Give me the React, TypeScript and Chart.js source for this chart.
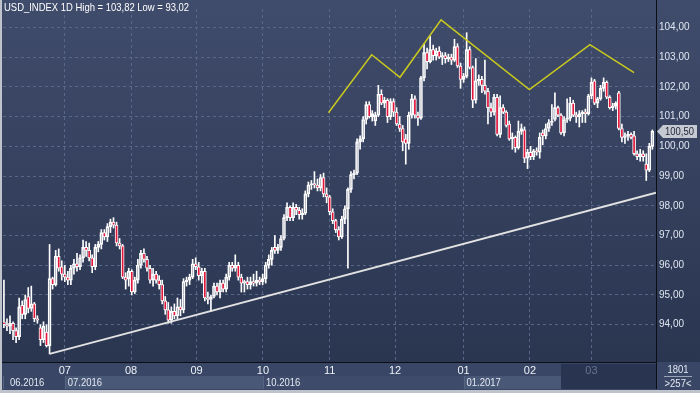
import React, { useEffect, useRef } from "react";
import { Chart, registerables } from "chart.js";

Chart.register(...registerables);

// ---- data (daily candles, USD_INDEX, Jun 2016 – Mar 2017) ----
const open = [
  94.1, 94.0, 93.95, 94.05, 93.8, 93.6, 94.65, 94.35, 94.95, 94.55,
  94.7, 94.2, 93.9, 93.5, 93.75, 93.3, 95.55, 95.35, 96.3, 95.95,
  95.7, 95.6, 95.5, 95.9, 96.05, 95.95, 96.25, 96.6, 96.5, 96.25,
  95.95, 96.6, 96.7, 97.1, 96.95, 97.3, 97.45, 97.35, 96.75, 96.65,
  95.6, 95.55, 95.8, 95.1, 95.5, 96.0, 96.4, 96.2, 95.9, 95.5,
  95.7, 95.5, 95.35, 94.8, 94.5, 94.15, 94.45, 94.3, 94.6, 94.5,
  95.45, 95.5, 95.6, 96.05, 95.95, 95.65, 95.8, 94.9, 94.85, 94.95,
  95.3, 95.1, 95.4, 95.2, 95.6, 96.0, 95.9, 96.0, 95.6, 95.4,
  95.45, 95.35, 95.45, 95.4, 95.5, 95.45, 95.55, 96.0, 96.2, 96.6,
  96.5, 96.6, 96.9, 97.6, 97.95, 97.6, 97.95, 97.85, 97.7, 97.75,
  98.4, 98.7, 98.75, 98.7, 98.6, 98.95, 98.4, 98.3, 97.8, 97.5,
  97.2, 96.95, 97.55, 97.9, 98.55, 99.05, 99.1, 100.15, 100.25, 100.9,
  101.4, 101.0, 100.85, 101.05, 101.75, 101.45, 101.55, 101.0, 101.5, 101.15,
  100.75, 100.6, 100.25, 100.1, 101.05, 101.6, 101.05, 100.95, 102.3, 103.15,
  102.85, 103.25, 103.05, 103.2, 103.0, 103.05, 102.95, 103.0, 102.9, 103.35,
  102.7, 102.25, 102.35, 103.25, 102.65, 101.55, 102.2, 102.25, 102.05, 101.85,
  101.3, 101.15, 101.65, 100.4, 101.3, 101.15, 100.75, 100.25, 100.3, 99.95,
  100.5, 100.55, 99.6, 99.8, 99.65, 99.85, 99.8, 100.45, 100.35, 100.6,
  100.8, 100.9, 101.3, 101.05, 100.45, 100.9, 100.95, 101.45, 101.05, 101.0,
  101.1, 101.15, 101.1, 101.7, 102.2, 101.45, 101.6, 101.95, 102.15, 101.65,
  101.3, 101.35, 101.8, 100.6, 100.3, 100.35, 100.4, 100.35, 99.75, 99.65,
  99.75, 99.4, 99.2, 100.0,
];
const high = [
  95.5, 94.2, 94.3, 94.1, 93.9, 94.9, 94.8, 95.0, 95.25, 95.3,
  94.75, 94.3, 94.0, 94.1, 94.0, 96.7, 95.6, 96.5, 96.55, 96.15,
  96.0, 95.8, 96.0, 96.2, 96.4, 96.35, 96.85, 96.8, 96.75, 96.35,
  96.7, 96.8, 97.2, 97.2, 97.4, 97.55, 97.6, 97.45, 96.9, 96.7,
  95.75, 95.9, 95.85, 95.6, 96.2, 96.5, 96.55, 96.3, 96.0, 95.9,
  95.8, 95.65, 95.5, 94.95, 94.75, 94.6, 94.7, 94.9, 94.85, 95.55,
  95.6, 95.7, 96.2, 96.25, 96.1, 95.9, 95.9, 95.1, 95.0, 95.4,
  95.4, 95.5, 95.5, 95.7, 96.1, 96.1, 96.35, 96.1, 95.7, 95.5,
  95.6, 95.6, 95.7, 95.8, 95.6, 95.7, 96.1, 96.35, 96.6, 97.0,
  96.7, 97.0, 97.7, 98.1, 98.0, 98.1, 98.05, 97.95, 97.9, 98.5,
  98.8, 98.85, 99.15, 98.9, 99.05, 99.1, 98.6, 98.35, 97.9, 97.55,
  97.3, 97.65, 98.0, 98.6, 99.15, 99.2, 100.25, 100.35, 101.0, 101.5,
  101.5, 101.2, 101.15, 102.05, 101.9, 101.65, 101.6, 101.6, 101.6, 101.3,
  101.0, 100.7, 100.4, 101.15, 101.75, 101.7, 101.15, 102.35, 103.45, 103.3,
  103.7, 103.4, 103.3, 103.35, 103.15, 103.15, 103.1, 103.1, 103.6, 103.45,
  102.8, 102.45, 103.82, 103.35, 102.7, 102.95, 102.4, 102.35, 102.9, 101.95,
  101.45, 101.75, 101.75, 101.7, 101.4, 101.2, 100.85, 100.45, 100.35, 100.85,
  100.75, 100.65, 99.9, 100.0, 99.9, 99.95, 100.45, 100.55, 100.75, 100.9,
  101.4, 101.8, 101.35, 101.1, 101.0, 101.6, 101.65, 101.55, 101.15, 101.2,
  101.2, 101.25, 101.75, 102.3, 102.25, 101.65, 102.05, 102.3, 102.2, 101.7,
  101.45, 101.5, 101.85, 100.75, 100.45, 100.5, 100.45, 100.5, 99.85, 99.9,
  99.85, 99.75, 100.1, 100.55,
];
const low = [
  93.9, 93.8, 93.7, 93.5, 93.4, 93.5, 94.2, 94.2, 94.4, 94.45,
  94.1, 94.05, 93.3, 93.4, 93.25, 93.02, 95.2, 95.3, 95.8, 95.5,
  95.45, 95.35, 95.35, 95.7, 95.8, 95.85, 96.1, 96.3, 96.15, 95.75,
  95.85, 96.45, 96.55, 96.85, 96.8, 97.1, 97.25, 96.65, 96.55, 95.55,
  95.2, 95.3, 95.0, 95.05, 95.4, 95.9, 96.1, 95.8, 95.4, 95.3,
  95.4, 95.2, 94.7, 94.35, 94.05, 94.05, 94.2, 94.2, 94.3, 94.4,
  95.3, 95.35, 95.55, 95.85, 95.5, 95.4, 94.8, 94.7, 94.45, 94.9,
  95.0, 94.9, 95.1, 95.1, 95.5, 95.8, 95.8, 95.5, 95.1, 95.1,
  95.2, 95.2, 95.3, 95.3, 95.35, 95.35, 95.4, 95.9, 96.0, 96.4,
  96.4, 96.5, 96.85, 97.5, 97.5, 97.5, 97.7, 97.55, 97.55, 97.7,
  98.3, 98.55, 98.6, 98.5, 98.5, 98.3, 98.1, 97.7, 97.4, 97.1,
  96.85, 96.9, 97.4, 95.9, 98.45, 98.9, 99.05, 99.9, 100.15, 100.75,
  100.95, 100.85, 100.7, 101.0, 101.4, 101.3, 100.8, 100.9, 101.0, 100.7,
  100.5, 99.85, 99.4, 99.9, 100.95, 100.95, 100.7, 100.9, 102.2, 102.6,
  102.8, 102.9, 102.9, 102.95, 102.75, 102.8, 102.85, 102.75, 102.85, 102.65,
  101.95, 102.15, 102.3, 102.6, 101.3, 101.45, 102.05, 101.8, 101.75, 100.75,
  101.0, 101.05, 100.35, 100.3, 101.1, 100.65, 100.2, 99.9, 99.8, 99.9,
  100.4, 99.45, 99.25, 99.55, 99.55, 99.7, 99.6, 100.05, 100.25, 100.5,
  100.7, 100.85, 101.0, 100.4, 100.35, 100.8, 100.85, 101.0, 100.8, 100.65,
  100.8, 100.8, 101.05, 101.6, 101.4, 101.3, 101.55, 101.85, 101.6, 101.25,
  101.2, 101.25, 100.55, 100.15, 100.1, 100.2, 100.25, 99.7, 99.55, 99.5,
  99.5, 98.85, 99.15, 99.9,
];
const close = [
  94.0, 93.95, 94.05, 93.8, 93.6, 94.6, 94.35, 94.85, 94.55, 94.7,
  94.2, 94.15, 93.5, 93.95, 93.3, 95.55, 95.35, 96.3, 95.9, 95.7,
  95.6, 95.5, 95.9, 96.05, 95.95, 96.25, 96.6, 96.5, 96.25, 95.95,
  96.6, 96.7, 97.1, 96.95, 97.3, 97.45, 97.35, 96.75, 96.65, 95.6,
  95.5, 95.8, 95.1, 95.5, 96.0, 96.4, 96.2, 95.9, 95.5, 95.7,
  95.5, 95.35, 94.8, 94.5, 94.15, 94.45, 94.3, 94.6, 94.5, 95.45,
  95.5, 95.6, 96.05, 95.95, 95.65, 95.8, 94.9, 94.85, 94.95, 95.3,
  95.1, 95.4, 95.2, 95.6, 96.0, 95.9, 96.0, 95.6, 95.4, 95.45,
  95.35, 95.45, 95.4, 95.5, 95.45, 95.55, 96.0, 96.2, 96.5, 96.5,
  96.6, 96.9, 97.6, 97.95, 97.6, 97.95, 97.85, 97.7, 97.75, 98.4,
  98.7, 98.75, 98.7, 98.6, 98.95, 98.4, 98.3, 97.8, 97.5, 97.2,
  96.95, 97.55, 97.9, 98.55, 99.05, 99.1, 100.15, 100.25, 100.9, 101.4,
  101.0, 101.1, 101.05, 101.75, 101.45, 101.55, 101.0, 101.5, 101.15, 100.75,
  100.6, 100.15, 100.1, 101.05, 101.6, 101.05, 100.95, 102.3, 103.15, 102.85,
  103.25, 103.05, 103.2, 103.0, 103.05, 102.95, 103.0, 102.9, 103.35, 102.7,
  102.25, 102.35, 103.25, 102.65, 101.55, 102.2, 102.25, 102.05, 101.85, 101.3,
  101.15, 101.65, 100.4, 101.3, 101.15, 100.7, 100.25, 100.3, 99.95, 100.5,
  100.6, 99.6, 99.8, 99.65, 99.85, 99.8, 100.3, 100.35, 100.6, 100.8,
  100.85, 101.3, 101.05, 100.45, 100.9, 100.95, 101.45, 101.05, 101.0, 101.1,
  101.15, 101.1, 101.7, 102.15, 101.45, 101.6, 101.95, 102.15, 101.65, 101.3,
  101.35, 101.45, 100.6, 100.3, 100.35, 100.4, 100.3, 99.75, 99.65, 99.75,
  99.65, 99.2, 100.0, 100.5,
];

// month ticks (candle index of month start) and their labels
const monthTicks = [20, 41.75, 63.3, 85.1, 107, 128.5, 151, 172.8, 193];
const monthLabels = ["07", "08", "09", "10", "11", "12", "01", "02", "03"];
// quarter row of the time axis
const quarterStarts = [-0.3, 20, 85.1, 151];
const quarterLabels = ["06.2016", "07.2016", "10.2016", "01.2017"];
const navigatorStart = 183;
// y axis tick values
const yTickValues = [94, 95, 96, 97, 98, 99, 100, 101, 102, 103, 104];
// head & shoulders pattern line (index, value)
const patternIdx = [106.6, 120.8, 130.1, 143.6, 172.6, 192.5, 207.0];
const patternVal = [101.13, 103.08, 102.32, 104.25, 101.91, 103.42, 102.48];
// support trend line (index, value)
const supportIdx = [15, 214.2];
const supportVal = [93.02, 98.44];

const titleText = "USD_INDEX 1D High = 103,82 Low = 93,02";
const barsTotal = "1801";
const barsVisible = ">257<";

const FONT = "'Liberation Sans', Arial, sans-serif";
const SX = 0.86; // horizontal condensing of the custom labels
const fmt = (v: number) => v.toFixed(2).replace(".", ",");

function narrowText(ctx: CanvasRenderingContext2D, text: string, x: number, y: number, align: CanvasTextAlign) {
  ctx.save();
  ctx.translate(x, y);
  ctx.scale(SX, 1);
  ctx.textAlign = align;
  ctx.fillText(text, 0, 0);
  ctx.restore();
}

export default function App() {
  const ref = useRef<HTMLCanvasElement>(null);

  useEffect(() => {
    document.body.style.margin = "0";
    const idx = close.map((_, i) => i);
    const bodyLo = idx.map((i) => Math.min(open[i], close[i]));
    const bodyHi = idx.map((i) => Math.max(open[i], close[i]));

    const decor = {
      id: "decor",
      beforeDraw(chart: any) {
        const { ctx, chartArea: a, width, height } = chart;
        const xs = chart.scales.x;
        ctx.save();
        const g = ctx.createLinearGradient(0, 0, 0, a.bottom);
        g.addColorStop(0, "#404c6b");
        g.addColorStop(1, "#2a3550");
        ctx.fillStyle = g;
        ctx.fillRect(0, 0, width, a.bottom);
        // time axis background
        ctx.fillStyle = "#394665";
        ctx.fillRect(0, a.bottom, width, height - a.bottom);
        const bandColors = ["#394665", "#4a5877", "#3e4b6a", "#4a5877"];
        quarterStarts.forEach((s, k) => {
          const x0 = k === 0 ? a.left : xs.getPixelForValue(s);
          const x1 = k + 1 < quarterStarts.length ? xs.getPixelForValue(quarterStarts[k + 1]) : a.right;
          ctx.fillStyle = bandColors[k];
          ctx.fillRect(x0, 376, x1 - x0, 13);
          ctx.fillStyle = "#56647f";
          ctx.fillRect(Math.round(x0), 376, 1, 13);
        });
        const nx = xs.getPixelForValue(navigatorStart);
        ctx.fillStyle = "#293450";
        ctx.fillRect(nx, 364, a.right - nx, 25);
        ctx.restore();
      },
      afterDraw(chart: any) {
        const { ctx, chartArea: a, width, height } = chart;
        const xs = chart.scales.x;
        const ys = chart.scales.y;
        ctx.save();
        // separators
        ctx.fillStyle = "#0b0e15";
        ctx.fillRect(Math.round(a.right), 0, 1, 389);
        ctx.fillRect(0, Math.round(a.bottom), Math.round(a.right), 1);
        // quarter labels
        ctx.font = `11px ${FONT}`;
        ctx.textBaseline = "middle";
        ctx.fillStyle = "#e4e9f2";
        quarterStarts.forEach((s, k) => {
          const x = k === 0 ? a.left + 7 : xs.getPixelForValue(s) + 3;
          narrowText(ctx, quarterLabels[k], x, 383, "left");
        });
        // bar counters
        narrowText(ctx, barsTotal, 678, 370, "center");
        narrowText(ctx, barsVisible, 678, 384, "center");
        ctx.fillStyle = "#9aa5b8";
        ctx.fillRect(664, 376, 28, 1);
        // title
        ctx.fillStyle = "#ffffff";
        narrowText(ctx, titleText, 4, 8, "left");
        // last price tag
        const last = close[close.length - 1];
        const py = Math.round(ys.getPixelForValue(last)) + 0.5;
        const px = Math.round(a.right) + 1;
        ctx.fillStyle = "#c5c9d1";
        ctx.beginPath();
        ctx.moveTo(px, py);
        ctx.lineTo(px + 6, py - 6.5);
        ctx.lineTo(697, py - 6.5);
        ctx.lineTo(697, py + 6.5);
        ctx.lineTo(px + 6, py + 6.5);
        ctx.closePath();
        ctx.fill();
        ctx.fillStyle = "#1b2336";
        narrowText(ctx, fmt(last), px + 8, py + 0.5, "left");
        // outer frame
        ctx.fillStyle = "#bfc4cc";
        ctx.fillRect(0, 0, 2, height);
        ctx.fillRect(0, 390, width, 3);
        ctx.restore();
      },
    };

    const chart = new Chart(ref.current!, {
      type: "bar",
      data: {
        datasets: [
          {
            type: "line",
            order: -2,
            data: supportIdx.map((x, k) => ({ x, y: supportVal[k] })),
            borderColor: "#e2e2e2",
            borderWidth: 2,
            pointRadius: 0,
            tension: 0,
          } as any,
          {
            type: "line",
            order: -1,
            data: patternIdx.map((x, k) => ({ x, y: patternVal[k] })),
            borderColor: "#c9c91e",
            borderWidth: 1.5,
            pointRadius: 0,
            tension: 0,
          } as any,
          {
            order: 0,
            data: idx.map((i) => ({ x: i, y: [bodyLo[i], bodyHi[i]] })),
            backgroundColor: idx.map((i) => (close[i] < open[i] ? "#e3173c" : "rgba(0,0,0,0)")),
            borderColor: "#ffffff",
            borderWidth: 1,
            borderSkipped: false,
            barThickness: 3,
            grouped: false,
          } as any,
          {
            order: 1,
            data: idx.map((i) => ({ x: i, y: [low[i], bodyLo[i]] })),
            backgroundColor: "#ffffff",
            barThickness: 1,
            grouped: false,
          } as any,
          {
            order: 1,
            data: idx.map((i) => ({ x: i, y: [bodyHi[i], high[i]] })),
            backgroundColor: "#ffffff",
            barThickness: 1,
            grouped: false,
          } as any,
        ],
      },
      options: {
        responsive: false,
        animation: false,
        events: [],
        devicePixelRatio: 1,
        layout: { padding: { left: 3, top: 2, right: 0, bottom: 0 } },
        plugins: { legend: { display: false }, tooltip: { enabled: false }, title: { display: false } },
        scales: {
          x: {
            type: "linear",
            offset: false,
            min: -0.3,
            max: 214.2,
            afterFit: (s: any) => {
              s.height = 31;
            },
            afterBuildTicks: (s: any) => {
              s.ticks = monthTicks.map((v) => ({ value: v }));
            },
            grid: { color: "#58668a", lineWidth: 1, drawTicks: false, offset: false },
            border: { display: false, dash: [3, 3] },
            ticks: {
              autoSkip: false,
              maxRotation: 0,
              padding: 2,
              font: { family: FONT, size: 11 },
              color: (c: any) => (c.tick && c.tick.value >= navigatorStart ? "#67748f" : "#eef2f8"),
              callback: (v: any) => {
                const k = monthTicks.indexOf(Number(v));
                return k >= 0 ? monthLabels[k] : "";
              },
            },
          },
          y: {
            type: "linear",
            position: "right",
            min: 92.747,
            max: 104.617,
            afterFit: (s: any) => {
              s.width = 44;
            },
            afterBuildTicks: (s: any) => {
              s.ticks = yTickValues.map((v) => ({ value: v }));
            },
            grid: { color: "#58668a", lineWidth: 1, drawTicks: false },
            border: { display: false, dash: [3, 3] },
            ticks: {
              padding: 3,
              font: { family: FONT, size: 10 },
              color: "#dfe6f1",
              callback: (v: any) => fmt(Number(v)),
            },
          },
        },
      },
      plugins: [decor],
    } as any);
    return () => chart.destroy();
  }, []);

  return (
    <div style={{ width: 700, height: 393, position: "relative" }}>
      <canvas ref={ref} width={700} height={393} style={{ display: "block", width: 700, height: 393 }} />
    </div>
  );
}
